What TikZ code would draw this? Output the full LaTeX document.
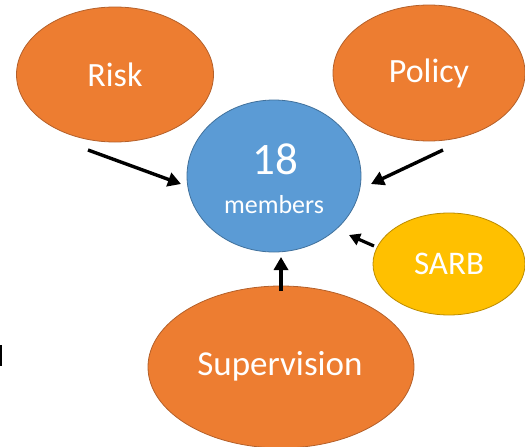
\documentclass[tikz,border=0pt]{standalone}
\usepackage{fontspec}
\setmainfont{Carlito}
\usetikzlibrary{shapes.geometric,arrows.meta}
\definecolor{orng}{HTML}{ED7D31}
\definecolor{orngline}{HTML}{B4602A}
\definecolor{blu}{HTML}{5B9BD5}
\definecolor{bluline}{HTML}{41719C}
\definecolor{yel}{HTML}{FFC000}
\definecolor{yelline}{HTML}{BC8C00}
\tikzset{
  oval/.style={ellipse, inner sep=0pt, line width=0.8pt, text=white},
  orangeoval/.style={oval, fill=orng, draw=orngline},
  arr/.style={line width=3.4pt, -{Triangle[length=13pt,width=14pt]}},
}
\begin{document}
\begin{tikzpicture}[x=1pt,y=-1pt]
\useasboundingbox (0,0) rectangle (525,447);
\node[orangeoval, minimum width=197pt, minimum height=135pt] (risk) at (115,74.5) {};
\node[font=\fontsize{34}{36}\selectfont, text=white] at (risk.center) {Risk};
\node[orangeoval, minimum width=192pt, minimum height=136pt] (policy) at (429,73) {};
\node[font=\fontsize{34}{36}\selectfont, text=white] at (policy.center) {Policy};
\node[oval, fill=blu, draw=bluline, minimum width=174pt, minimum height=152pt] (core) at (274,176) {};
\node[font=\fontsize{45}{48}\selectfont, text=white] (num) at (275,159) {18};
\node[font=\fontsize{26}{28}\selectfont, text=white] (mem) at (274,205) {members};
\node[oval, fill=yel, draw=yelline, minimum width=152pt, minimum height=102pt] (sarb) at (449,264) {};
\node[font=\fontsize{33}{36}\selectfont, text=white] at (sarb.center) {SARB};
\node[orangeoval, minimum width=266pt, minimum height=162pt] (sup) at (281,367) {};
\node[font=\fontsize{35}{38}\selectfont, text=white] at (280,366) {Supervision};
\coordinate (r1) at (88,150);
\coordinate (r2) at (181,184);
\coordinate (p1) at (443,150);
\coordinate (p2) at (371,184);
\coordinate (s1) at (374,246);
\coordinate (s2) at (349,235);
\coordinate (u1) at (281,291);
\coordinate (u2) at (281,257);
\draw[arr] (r1) -- (r2);
\draw[arr] (p1) -- (p2);
\draw[line width=3.2pt, -{Triangle[length=11pt,width=12pt]}] (s1) -- (s2);
\draw[arr] (u1) -- (u2);
\coordinate (m1) at (0.8,345);
\coordinate (m2) at (0.8,366);
\draw[line width=1.6pt] (m1) -- (m2);
\end{tikzpicture}
\end{document}
